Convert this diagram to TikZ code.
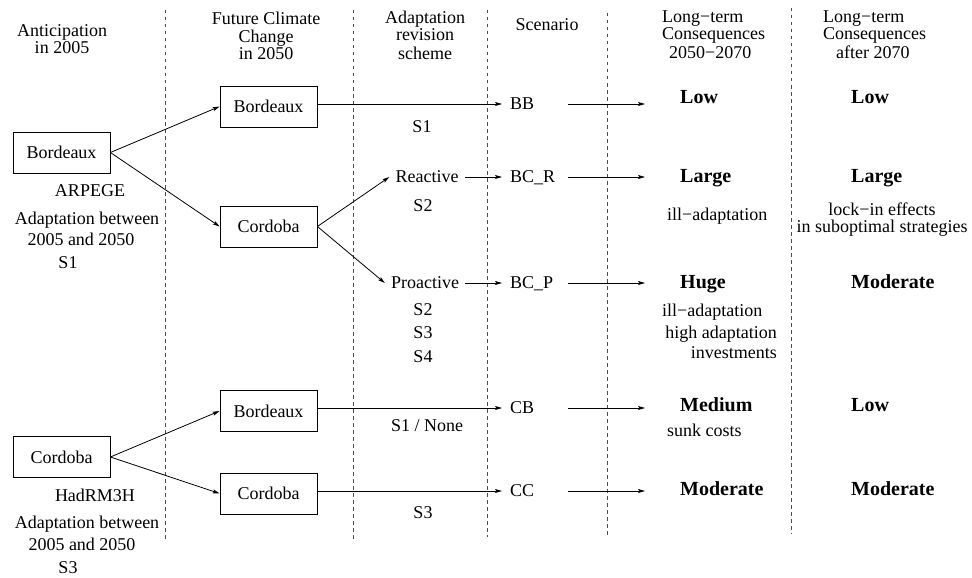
\documentclass[tikz,border=0pt]{standalone}
\usepackage{fontspec}
\setmainfont{Liberation Serif}
\usetikzlibrary{arrows.meta}

\begin{document}
\begin{tikzpicture}[x=1pt, y=-1pt,
    font=\fontsize{18}{18}\selectfont,
    every node/.style={inner sep=0pt},
    txt/.style={text height=12pt, text depth=2pt},
    region/.style={draw, line width=0.8pt, minimum width=97pt, minimum height=41pt},
    scen/.style={txt, anchor=west, inner xsep=8pt},
    cons/.style={txt, anchor=west, font=\fontsize{20}{20}\selectfont\bfseries},
    arr/.style={line width=0.8pt, -{Stealth[length=7pt, width=4pt, inset=1.5pt]}},
    sep/.style={black!70, line width=0.8pt, dash pattern=on 3.5pt off 3.5pt}]
    \useasboundingbox (0,0) rectangle (972,578);

    % column separators
    \foreach \x/\ya/\yb in {165/10/542, 353/10/541, 487/10/537, 607/13/538, 791/8/534}
        \draw[sep] (\x,\ya) -- (\x,\yb);

    % headers
    \node[align=center, anchor=north] (hdAntic) at (62,24.5) {Anticipation\\[-1pt]in 2005};
    \node[align=center, anchor=north] (hdFuture) at (266,12) {Future Climate\\[0pt]Change\\[-1pt]in 2050};
    \node[align=center, anchor=north] (hdAdapt) at (425,10.5) {Adaptation\\[-1pt]revision\\[1pt]scheme};
    \node[txt] (hdScen) at (547,26) {Scenario};
    \node[align=left, anchor=north west] (hdMid) at (662,10.5) {Long−term\\[-1pt]Consequences\\[1pt]\hspace*{7pt}2050−2070};
    \node[align=left, anchor=north west] (hdLate) at (823,10.5) {Long−term\\[-1pt]Consequences\\[1pt]\hspace*{13pt}after 2070};

    % anticipation and climate boxes
    \node[region] (antB) at (61.5,152.5) {Bordeaux};
    \node[region] (futBB) at (268.5,106.5) {Bordeaux};
    \node[region] (futBC) at (268.5,226.5) {Cordoba};
    \node[region] (antC) at (61.5,457) {Cordoba};
    \node[region] (futCB) at (268.5,411) {Bordeaux};
    \node[region] (futCC) at (268.5,493.5) {Cordoba};

    \node[txt] (arpege) at (90,191) {ARPEGE};
    \node[txt] (adB1) at (87,219) {Adaptation between};
    \node[txt] (adB2) at (81,240) {2005 and 2050};
    \node[txt] (sB) at (68,263) {S1};
    \node[txt] (hadrm) at (95,496) {HadRM3H};
    \node[txt] (adC1) at (87,523) {Adaptation between};
    \node[txt] (adC2) at (82,545) {2005 and 2050};
    \node[txt] (sC) at (68,568) {S3};

    % revision schemes
    \node[txt, inner xsep=6pt] (react) at (427,177) {Reactive};
    \node[txt, inner xsep=6pt] (proact) at (425,283) {Proactive};
    \node[txt] (sBB) at (422,127) {S1};
    \node[txt] (sBR) at (423,206) {S2};
    \node[txt] (sBP2) at (423,310) {S2};
    \node[txt] (sBP3) at (423,333) {S3};
    \node[txt] (sBP4) at (423,357) {S4};
    \node[txt] (sCB) at (427,426) {S1 / None};
    \node[txt] (sCC) at (423,513) {S3};

    % scenarios
    \node[scen] (bb) at (502,104) {BB};
    \node[scen] (bcr) at (502,177) {BC\_R};
    \node[scen] (bcp) at (502,283) {BC\_P};
    \node[scen] (cb) at (502,408) {CB};
    \node[scen] (cc) at (502,491) {CC};

    % consequences
    \node[cons] (lowA) at (680,98) {Low};
    \node[cons] (lowB) at (851,98) {Low};
    \node[cons] (largeA) at (680,177) {Large};
    \node[cons] (largeB) at (851,177) {Large};
    \node[cons] (hugeA) at (680,283) {Huge};
    \node[cons] (modB) at (851,283) {Moderate};
    \node[cons] (medA) at (680,406) {Medium};
    \node[cons] (lowC) at (851,406) {Low};
    \node[cons] (modC) at (680,490) {Moderate};
    \node[cons] (modD) at (851,490) {Moderate};

    \node[txt, anchor=west] (illA) at (667,215) {ill−adaptation};
    \node[align=center, anchor=north] (lockin) at (882,203) {lock−in effects\\[-1pt]in suboptimal strategies};
    \node[txt, anchor=west] (illB) at (662,311) {ill−adaptation};
    \node[align=right, anchor=north east] (invest) at (777,326) {high adaptation\\[2pt]investments};
    \node[txt, anchor=west] (sunk) at (667,431) {sunk costs};

    % connectors
    \draw[arr] (antB.east) -- (futBB.west);
    \draw[arr] (antB.east) -- (futBC.west);
    \draw[arr] (antC.east) -- (futCB.west);
    \draw[arr] (antC.east) -- (futCC.west);
    \draw[arr] (futBC.east) -- (react.west);
    \draw[arr] (futBC.east) -- (proact.west);
    \draw[arr] (futBB.east |- bb.west) -- (bb.west);
    \draw[arr] (react.east) -- (bcr.west);
    \draw[arr] (proact.east) -- (bcp.west);
    \draw[arr] (futCB.east |- cb.west) -- (cb.west);
    \draw[arr] (futCC.east |- cc.west) -- (cc.west);

    \coordinate (outL) at (568,0);
    \coordinate (outR) at (645,0);
    \foreach \s in {bb,bcr,bcp,cb,cc}
        \draw[arr] (\s.west -| outL) -- (\s.west -| outR);
\end{tikzpicture}
\end{document}
